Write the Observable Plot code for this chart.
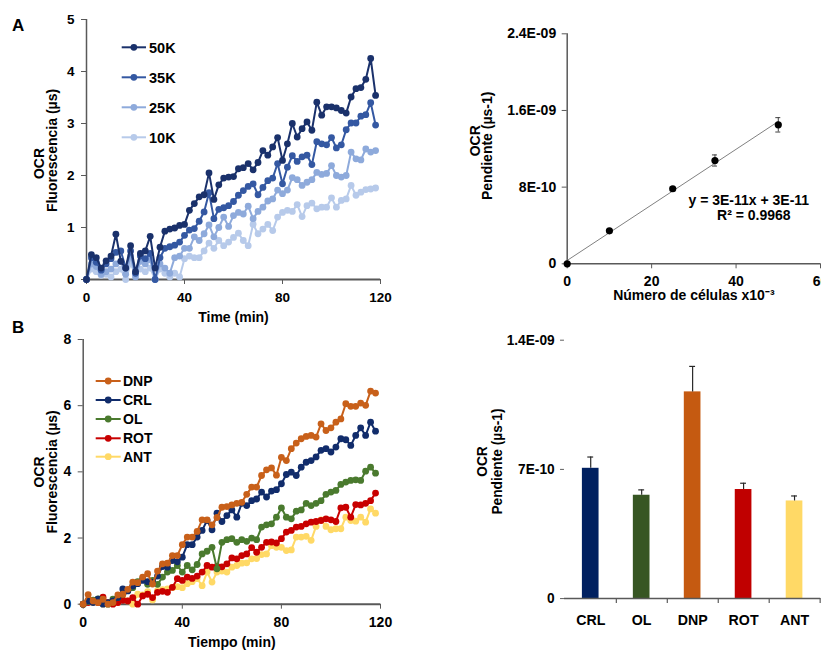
<!DOCTYPE html>
<html><head><meta charset="utf-8">
<script src="https://cdn.jsdelivr.net/npm/d3@7"></script>
<script src="https://cdn.jsdelivr.net/npm/@observablehq/plot@0.6"></script>
<style>
html,body{margin:0;padding:0;background:#fff;overflow:hidden;}
#page{position:relative;width:821px;height:651px;overflow:hidden;font-family:"Liberation Sans",Arial,sans-serif;}
.panel{position:absolute;overflow:hidden;}
.panel svg{background:transparent !important;display:block;}
#overlay{position:absolute;left:0;top:0;pointer-events:none;}
</style></head><body><div id="page"></div>
<script>
// ---------- DATA ----------
const timeMin = [0,2,4,6,8,10,12,14,16,18,20,22,24,26,28,30,32,34,36,38,40,42,44,46,48,50,52,54,56,58,
  60,62,64,66,68,70,72,74,76,78,80,82,84,86,88,90,92,94,96,98,100,102,104,106,108,110,112,114,116,118];

// Panel A left: fluorescence by cell number
const namesA = ["50K","35K","25K","10K"];
const colorsA = ["#1A316B","#3458A2","#8EAADB","#B7CAEA"];
const cells50K = [0,0.48,0.42,0.22,0.36,0.45,0.87,0.35,0.22,0.65,0.15,0.5,0.55,0.83,0.22,0.62,0.93,0.97,0.99,1.04,
  1.06,1.33,1.46,1.59,1.63,2.05,1.54,1.82,1.95,1.97,1.98,2.13,2.15,2.23,2.11,2.25,2.48,2.39,2.55,2.73,
  2.29,2.61,3.0,2.74,2.9,3.03,2.87,3.41,3.16,3.32,3.32,3.3,3.25,3.2,3.51,3.67,3.69,3.85,4.25,3.54];
const cells35K = [0,0.42,0.33,0.18,0.3,0.4,0.52,0.55,0.22,0.55,0.12,0.45,0.4,0.5,0.0,0.42,0.6,0.63,0.66,0.72,
  0.85,0.95,0.98,1.12,1.3,1.67,1.17,1.35,1.38,1.42,1.5,1.62,1.71,1.79,1.84,1.63,1.77,1.9,1.95,2.23,
  1.84,2.16,2.38,2.27,2.36,2.39,2.21,2.65,2.61,2.59,2.73,2.53,2.59,2.88,3.01,3.01,3.14,3.17,3.4,2.97];
const cells25K = [0,0.3,0.25,0.1,0.15,0.2,0.3,0.35,0.1,0.45,0.05,0.35,0.3,0.38,0.0,0.3,0.22,0.12,0.42,0.45,
  0.6,0.6,0.82,0.75,0.88,1.05,0.82,1.0,1.2,1.02,1.23,1.29,1.26,1.41,1.17,1.31,1.39,1.51,1.55,1.72,
  1.65,1.72,1.96,1.92,1.81,1.87,1.92,2.06,2.02,2.04,2.19,2.0,1.97,2.0,2.45,2.32,2.3,2.51,2.45,2.48];
const cells10K = [0,0.2,0.15,0.08,0.1,0.05,0.15,0.2,0.0,0.3,0.1,0.2,0.15,0.22,0.0,0.2,0.12,0.05,0.12,0.05,
  0.4,0.45,0.42,0.42,0.55,0.7,0.6,0.75,0.65,0.72,0.81,0.89,0.75,0.65,1.06,0.88,0.97,1.06,0.94,1.2,
  1.29,1.33,1.31,1.44,1.21,1.42,1.47,1.36,1.39,1.39,1.57,1.39,1.52,1.55,1.81,1.62,1.68,1.73,1.74,1.76];

// Panel A right: slope vs number of cells (x10^-3)
const cellCount = [0,10,25,35,50];
const slopeMean = [0,3.44e-10,7.83e-10,1.078e-9,1.45e-9];
const slopeErr = [0,1.0e-11,2.0e-11,5.8e-11,7.5e-11];
const slopeTicks = [0,8e-10,1.6e-9,2.4e-9];
const slopeTickLabels = ["0","8E-10","1.6E-09","2.4E-09"];
const fitText = ["y = 3E-11x + 3E-11","R\u00b2 = 0.9968"];

// Panel B left: fluorescence by treatment
const namesB = ["DNP","CRL","OL","ROT","ANT"];
const colorsB = ["#C8601A","#112C6B","#4A7A2E","#C80000","#FFD966"];
const dnp = [0,0.29,0.1,0.05,0.15,0.0,0.05,0.28,0.3,0.45,0.67,0.65,0.82,0.92,0.61,1.0,1.22,1.24,1.47,1.47,
  1.8,2.03,2.03,2.2,2.55,2.55,2.4,2.62,2.93,2.95,3.0,3.05,3.08,3.32,3.54,3.54,3.89,4.06,4.12,3.9,
  4.44,4.34,4.7,4.87,5.0,5.07,5.1,5.05,5.45,5.25,5.33,5.5,5.6,6.06,5.98,5.98,6.08,6.01,6.44,6.38];
const crl = [0,0.1,0.05,0.15,0.0,0.05,0.1,0.2,0.46,0.4,0.55,0.62,0.72,0.68,0.66,0.85,1.14,1.12,1.32,1.28,
  1.42,1.8,1.8,2.03,2.23,2.53,2.25,2.75,2.5,2.68,2.85,2.63,3.05,2.98,3.13,3.18,3.39,3.24,3.42,3.46,
  3.64,3.92,3.99,3.89,4.14,4.29,4.34,4.45,4.65,4.7,4.6,4.75,5.0,4.97,4.8,5.1,5.33,5.1,5.5,5.23];
const ol = [0,0.08,0.12,0.16,0.05,0.0,0.15,0.2,0.3,0.41,0.5,0.68,0.77,0.6,0.72,0.6,0.82,0.97,1.02,1.17,
  0.97,1.17,1.04,1.2,1.52,1.6,1.72,1.07,1.87,1.95,1.98,1.87,1.95,1.9,2.0,1.95,2.33,2.4,2.43,2.63,
  2.91,2.63,2.58,2.81,2.85,3.05,2.98,3.05,3.13,3.32,3.39,3.44,3.62,3.69,3.74,3.76,3.74,4.02,4.14,3.96];
const rot = [0,0.05,0.08,0.05,0.21,0.05,0.0,0.05,0.12,0.1,0.2,0.0,0.25,0.3,0.2,0.36,0.39,0.36,0.51,0.77,
  0.72,0.82,0.78,0.85,0.97,1.17,1.12,1.14,1.13,1.22,1.4,1.37,1.47,1.52,1.71,1.57,1.72,1.87,1.88,1.85,
  1.98,2.18,2.23,2.33,2.35,2.43,2.48,2.5,2.53,2.58,2.55,2.5,2.91,2.93,2.63,3.01,3.0,3.05,3.13,3.36];
const ant = [0,0.08,0.05,0.1,0.0,0.05,0.1,0.05,0.15,0.1,0.0,0.3,0.28,0.38,0.13,0.41,0.44,0.46,0.5,0.53,
  0.5,0.62,0.68,0.77,0.56,0.97,0.67,0.97,1.0,0.97,1.12,1.17,1.24,1.25,1.37,1.38,1.5,1.52,1.77,1.72,
  1.72,1.62,1.64,2.03,2.03,2.05,1.93,2.35,2.55,2.35,2.25,2.28,2.28,2.63,2.53,2.51,2.63,2.48,2.88,2.75];

// Panel B right: slope by treatment
const treatments = ["CRL","OL","DNP","ROT","ANT"];
const treatColors = ["#002060","#375623","#C55A11","#C00000","#FFD966"];
const slopeTreat = [7.06e-10,5.6e-10,1.12e-9,5.91e-10,5.29e-10];
const slopeTreatErr = [0.61e-10,0.29e-10,1.38e-10,0.34e-10,0.27e-10];
const treatTicks = [0,7e-10,1.4e-9];
const treatTickLabels = ["0","7E-10","1.4E-09"];

// ---------- HELPERS ----------
const FONT = "'Liberation Sans', Arial, sans-serif";
const AX = "#595959";
const page = document.getElementById("page");
const T = {textAnchor: "middle", lineAnchor: "middle", fontWeight: "bold", fill: "#000"};
function place(node, left, top) {
  const d = document.createElement("div");
  d.className = "panel"; d.style.left = left + "px"; d.style.top = top + "px";
  d.appendChild(node); page.appendChild(d);
}
function toLong(names, arrays) {
  return names.flatMap((n, k) => timeMin.map((t, i) => ({t, v: arrays[k][i], s: n})));
}
function seriesMarks(data, names) {
  return names.slice().reverse().flatMap(n => {
    const d = data.filter(r => r.s === n);
    return [Plot.line(d, {x: "t", y: "v", stroke: "s", strokeWidth: 2}),
            Plot.dot(d, {x: "t", y: "v", fill: "s", r: 3.4})];
  });
}
function lineChart(o) {
  return Plot.plot({
    width: o.width, height: o.height,
    marginLeft: o.ml, marginRight: o.mr, marginTop: o.mt, marginBottom: o.mb,
    style: {background: "transparent", fontFamily: FONT, color: "#000"},
    x: {domain: [0, 120]},
    y: {domain: o.yDomain},
    color: {domain: o.names, range: o.colors},
    marks: [
      Plot.axisX({ticks: [0, 40, 80, 120], tickFormat: d => String(d), tickSize: 5, tickPadding: 8, stroke: AX, fill: "#000",
        fontSize: o.tickFs, fontWeight: "bold", label: null}),
      Plot.axisY({ticks: o.yTicks, tickFormat: d => String(d), tickSize: 5, tickPadding: 7, stroke: AX, fill: "#000",
        fontSize: o.tickFs, fontWeight: "bold", label: null}),
      Plot.ruleX([0], {stroke: AX, strokeWidth: 1.5}),
      Plot.ruleY([0], {stroke: AX, strokeWidth: 2}),
      ...seriesMarks(o.data, o.names),
      Plot.text([o.xLabel], {...T, text: d => d, frameAnchor: "bottom", dy: 38, fontSize: 14}),
      Plot.text(["OCR"], {...T, text: d => d, frameAnchor: "left", dx: o.ocrDx, dy: o.ocrDy, rotate: -90, fontSize: 14}),
      Plot.text(["Fluorescencia (\u00b5s)"], {...T, text: d => d, frameAnchor: "left", dx: o.flDx, dy: o.flDy, rotate: -90, fontSize: 14})
    ]
  });
}

// ---------- PANEL A LEFT ----------
place(lineChart({
  width: 430, height: 330, ml: 86, mr: 50, mt: 19, mb: 51, tickFs: 13.5,
  yDomain: [0, 5], yTicks: [0, 1, 2, 3, 4, 5],
  names: namesA, colors: colorsA,
  data: toLong(namesA, [cells50K, cells35K, cells25K, cells10K]),
  xLabel: "Time (min)", ocrDx: -47, ocrDy: 14, flDx: -34, flDy: 1
}), 0, 0);

// ---------- PANEL B LEFT ----------
place(lineChart({
  width: 430, height: 326, ml: 82.7, mr: 50, mt: 14, mb: 47.3, tickFs: 14,
  yDomain: [0, 8], yTicks: [0, 2, 4, 6, 8],
  names: namesB, colors: colorsB,
  data: toLong(namesB, [dnp, crl, ol, rot, ant]),
  xLabel: "Tiempo (min)", ocrDx: -44, ocrDy: 0, flDx: -31, flDy: 0
}), 0, 325);

// ---------- PANEL A RIGHT ----------
const scatter = cellCount.map((c, i) => ({c, m: slopeMean[i], e: slopeErr[i]}));
place(Plot.plot({
  width: 391, height: 330, marginLeft: 136.7, marginRight: 1, marginTop: 33.3, marginBottom: 66.7,
  style: {background: "transparent", fontFamily: FONT, color: "#000"},
  x: {domain: [0, 60]},
  y: {domain: [0, 2.4e-9]},
  marks: [
    Plot.axisX({ticks: [0, 20, 40, 60], tickFormat: d => String(d), tickSize: 5, tickPadding: 7, stroke: AX, fill: "#000",
      fontSize: 14, fontWeight: "bold", label: null}),
    Plot.axisY({ticks: slopeTicks, tickFormat: d => slopeTickLabels[slopeTicks.indexOf(d)],
      tickSize: 5, tickPadding: 6, stroke: AX, fill: "#000", fontSize: 14, fontWeight: "bold", label: null}),
    Plot.ruleX([0], {stroke: AX, strokeWidth: 1.5}),
    Plot.ruleY([0], {stroke: AX, strokeWidth: 1.5}),
    Plot.linearRegressionY(scatter, {x: "c", y: "m", ci: 0, stroke: "#808080", strokeWidth: 1}),
    Plot.ruleX(scatter, {x: "c", y1: d => d.m - d.e, y2: d => d.m + d.e, stroke: "#404040", strokeWidth: 1}),
    Plot.ruleY(scatter, {y: d => d.m + d.e, x1: "c", x2: "c", insetLeft: -2.5, insetRight: -2.5, stroke: "#404040", strokeWidth: 1}),
    Plot.ruleY(scatter, {y: d => d.m - d.e, x1: "c", x2: "c", insetLeft: -2.5, insetRight: -2.5, stroke: "#404040", strokeWidth: 1}),
    Plot.dot(scatter, {x: "c", y: "m", fill: "#000", r: 3.6}),
    Plot.text([fitText[0]], {...T, text: d => d, frameAnchor: "top-left", dx: 181.6, dy: 166.7, fontSize: 14}),
    Plot.text([fitText[1]], {...T, text: d => d, frameAnchor: "top-left", dx: 186.6, dy: 181.7, fontSize: 14}),
    Plot.text(["N\u00famero de c\u00e9lulas x10\u207b\u00b3"], {...T, text: d => d, frameAnchor: "bottom", dy: 32, fontSize: 14}),
    Plot.text(["OCR"], {...T, text: d => d, frameAnchor: "left", dx: -91.7, dy: -8, rotate: -90, fontSize: 14}),
    Plot.text(["Pendiente (\u00b5s-1)"], {...T, text: d => d, frameAnchor: "left", dx: -80, dy: -3, rotate: -90, fontSize: 14})
  ]
}), 430, 0);

// ---------- PANEL B RIGHT ----------
const bars = treatments.map((k, i) => ({k, m: slopeTreat[i], e: slopeTreatErr[i]}));
const bandStep = (398.2 - 136.7) / treatments.length;
place(Plot.plot({
  width: 399, height: 326, marginLeft: 136.7, marginRight: 0.8, marginTop: 15, marginBottom: 47.3,
  style: {background: "transparent", fontFamily: FONT, color: "#000"},
  x: {type: "band", domain: treatments, paddingInner: 0.68, paddingOuter: 0.34},
  y: {domain: [0, 1.4e-9]},
  color: {domain: treatments, range: treatColors},
  marks: [
    Plot.axisX({tickSize: 0, tickPadding: 17, fill: "#000", fontSize: 14.5, fontWeight: "bold", label: null}),
    Plot.axisY({ticks: treatTicks, tickFormat: d => treatTickLabels[treatTicks.indexOf(d)],
      tickSize: 4, tickPadding: 6, stroke: AX, fill: "#000", fontSize: 14, fontWeight: "bold", label: null}),
    Plot.barY(bars, {x: "k", y: "m", fill: "k"}),
    Plot.ruleX(bars, {x: "k", y1: "m", y2: d => d.m + d.e, stroke: "#262626", strokeWidth: 1.2}),
    Plot.tickY(bars, {x: "k", y: d => d.m + d.e, insetLeft: 5.5, insetRight: 5.5, stroke: "#262626", strokeWidth: 1.2}),
    Plot.ruleX([0], {stroke: AX, strokeWidth: 1.5}),
    Plot.ruleY([0], {stroke: AX, strokeWidth: 1.5}),
    Plot.ruleX(treatments, {x: d => d, y1: 0, y2: 0, insetBottom: -5, dx: bandStep / 2, stroke: AX, strokeWidth: 1.2}),
    Plot.text(["OCR"], {...T, text: d => d, frameAnchor: "left", dx: -84, dy: -8, rotate: -90, fontSize: 14}),
    Plot.text(["Pendiente (\u00b5s-1)"], {...T, text: d => d, frameAnchor: "left", dx: -68.4, dy: -8, rotate: -90, fontSize: 14})
  ]
}), 430, 325);

// ---------- LEGENDS & PANEL LETTERS ----------
const overlay = d3.select(page).append("svg").attr("id", "overlay").attr("width", 821).attr("height", 651)
  .style("font-family", FONT);
function legend(names, colors, cfg) {
  const g = overlay.append("g");
  names.forEach((n, i) => {
    const y = cfg.ys[i];
    g.append("line").attr("x1", cfg.x0).attr("x2", cfg.x1).attr("y1", y).attr("y2", y)
      .attr("stroke", colors[i]).attr("stroke-width", 2);
    g.append("circle").attr("cx", (cfg.x0 + cfg.x1) / 2).attr("cy", y).attr("r", 3.4).attr("fill", colors[i]);
    g.append("text").attr("x", cfg.xt).attr("y", y).attr("dy", "0.36em").attr("font-size", cfg.fs)
      .attr("font-weight", "bold").attr("fill", "#000").text(n);
  });
}
legend(namesA, colorsA, {x0: 121.7, x1: 146, xt: 149, ys: [47.3, 77.3, 107.3, 137.3], fs: 14.5});
legend(namesB, colorsB, {x0: 95.7, x1: 120.7, xt: 123, ys: [381, 400, 419, 438.3, 456.7], fs: 14});
overlay.append("text").attr("x", 12).attr("y", 31).attr("font-size", 17).attr("font-weight", "bold").text("A");
overlay.append("text").attr("x", 12).attr("y", 333).attr("font-size", 17).attr("font-weight", "bold").text("B");
</script>
</body></html>
